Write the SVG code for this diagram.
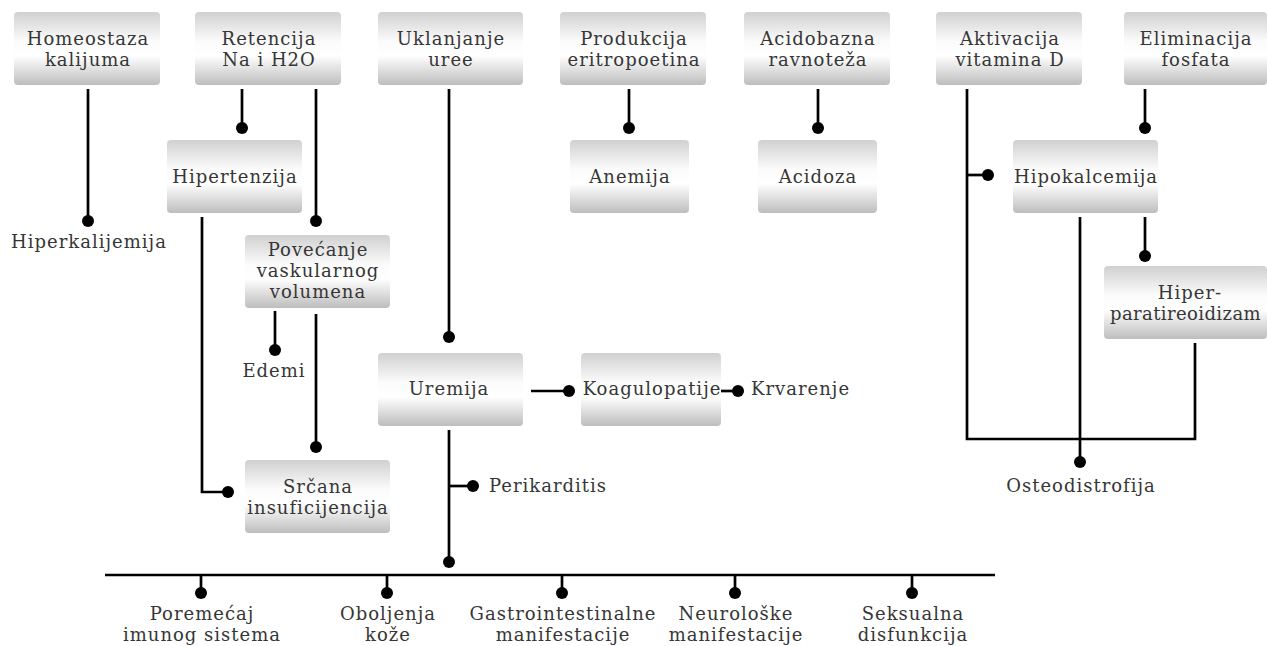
<svg xmlns="http://www.w3.org/2000/svg" width="1267" height="646" viewBox="0 0 1267 646">
<defs>
<linearGradient id="g" x1="0" y1="0" x2="0" y2="1">
<stop offset="0" stop-color="#d0d0d0"/>
<stop offset="0.4" stop-color="#fbfbfb"/>
<stop offset="0.6" stop-color="#ffffff"/>
<stop offset="1" stop-color="#bdbdbd"/>
</linearGradient>
<marker id="dot" viewBox="0 0 12 12" refX="6" refY="6" markerWidth="12" markerHeight="12" markerUnits="userSpaceOnUse"><circle cx="6" cy="6" r="6" fill="#000"/></marker>
</defs>
<style>
.box{fill:url(#g);}
text{font-family:"DejaVu Serif","Liberation Serif",serif;font-size:18px;letter-spacing:1px;fill:#363636;text-anchor:middle;}
.c{fill:none;stroke:#000;stroke-width:2.7;}
.d{marker-end:url(#dot);}
</style>
<rect width="1267" height="646" fill="#fff"/>
<g id="connectors">
<path class="c d" d="M88 89V221"/>
<path class="c d" d="M242 89V128"/>
<path class="c d" d="M316 89V221"/>
<path class="c d" d="M202 217V492H228"/>
<path class="c d" d="M275 311V350"/>
<path class="c d" d="M316 314V447"/>
<path class="c d" d="M449 89V337"/>
<path class="c d" d="M531 391H569"/>
<path class="c d" d="M721 391H738"/>
<path class="c d" d="M449 430V562"/>
<path class="c d" d="M449 486H473"/>
<path class="c d" d="M629 89V128"/>
<path class="c d" d="M818 89V128"/>
<path class="c" d="M967 89V439H1195V343"/>
<path class="c d" d="M967 175H988"/>
<path class="c d" d="M1145 89V128"/>
<path class="c d" d="M1145 217V256"/>
<path class="c d" d="M1080 217V462"/>
<path class="c" d="M105 575H995"/>
<path class="c d" d="M201 575V593"/>
<path class="c d" d="M387 575V593"/>
<path class="c d" d="M562 575V593"/>
<path class="c d" d="M735 575V593"/>
<path class="c d" d="M912 575V593"/>
</g>
<g id="homeostaza"><rect class="box" x="14" y="12" width="146" height="73" rx="4"/><text x="88" y="45">Homeostaza</text><text x="88" y="66">kalijuma</text></g>
<g id="retencija"><rect class="box" x="195" y="12" width="146" height="73" rx="4"/><text x="269" y="45">Retencija</text><text x="269" y="66">Na i H2O</text></g>
<g id="uklanjanje"><rect class="box" x="378" y="12" width="145" height="73" rx="4"/><text x="451" y="45">Uklanjanje</text><text x="451" y="66">uree</text></g>
<g id="produkcija"><rect class="box" x="560" y="12" width="146" height="73" rx="4"/><text x="634" y="45">Produkcija</text><text x="634" y="66">eritropoetina</text></g>
<g id="acidobazna"><rect class="box" x="744" y="12" width="146" height="73" rx="4"/><text x="818" y="45">Acidobazna</text><text x="818" y="66">ravnoteža</text></g>
<g id="aktivacija"><rect class="box" x="936" y="12" width="146" height="73" rx="4"/><text x="1010" y="45">Aktivacija</text><text x="1010" y="66">vitamina D</text></g>
<g id="eliminacija"><rect class="box" x="1124" y="12" width="143" height="73" rx="4"/><text x="1196" y="45">Eliminacija</text><text x="1196" y="66">fosfata</text></g>
<g id="hiperkalijemija"><text x="89" y="248">Hiperkalijemija</text></g>
<g id="hipertenzija"><rect class="box" x="167" y="140" width="135" height="73" rx="4"/><text x="235" y="183">Hipertenzija</text></g>
<g id="anemija"><rect class="box" x="570" y="140" width="119" height="73" rx="4"/><text x="630" y="183">Anemija</text></g>
<g id="acidoza"><rect class="box" x="758" y="140" width="119" height="73" rx="4"/><text x="818" y="183">Acidoza</text></g>
<g id="hipokalcemija"><rect class="box" x="1013" y="140" width="145" height="73" rx="4"/><text x="1086" y="183">Hipokalcemija</text></g>
<g id="povecanje"><rect class="box" x="245" y="235" width="145" height="73" rx="4"/><text x="318" y="256">Povećanje</text><text x="318" y="277">vaskularnog</text><text x="318" y="298">volumena</text></g>
<g id="edemi"><text x="274" y="377">Edemi</text></g>
<g id="hiperparatireoidizam"><rect class="box" x="1104" y="266" width="163" height="73" rx="4"/><text x="1190" y="299">Hiper-</text><text x="1110" y="320" style="text-anchor:start;letter-spacing:0.4px">paratireoidizam</text></g>
<g id="uremija"><rect class="box" x="378" y="353" width="145" height="73" rx="4"/><text x="449" y="395">Uremija</text></g>
<g id="koagulopatije"><rect class="box" x="581" y="353" width="140" height="73" rx="4"/><text x="652" y="395">Koagulopatije</text></g>
<g id="krvarenje"><text x="751" y="395" style="text-anchor:start">Krvarenje</text></g>
<g id="perikarditis"><text x="489" y="492" style="text-anchor:start">Perikarditis</text></g>
<g id="srcana"><rect class="box" x="245" y="460" width="145" height="73" rx="4"/><text x="318" y="493">Srčana</text><text x="318" y="514">insuficijencija</text></g>
<g id="osteodistrofija"><text x="1081" y="492">Osteodistrofija</text></g>
<g id="poremecaj"><text x="202" y="620">Poremećaj</text><text x="202" y="641">imunog sistema</text></g>
<g id="oboljenja"><text x="388" y="620">Oboljenja</text><text x="388" y="641">kože</text></g>
<g id="gastro"><text x="563" y="620">Gastrointestinalne</text><text x="563" y="641">manifestacije</text></g>
<g id="neuroloske"><text x="736" y="620">Neurološke</text><text x="736" y="641">manifestacije</text></g>
<g id="seksualna"><text x="913" y="620">Seksualna</text><text x="913" y="641">disfunkcija</text></g>
</svg>
